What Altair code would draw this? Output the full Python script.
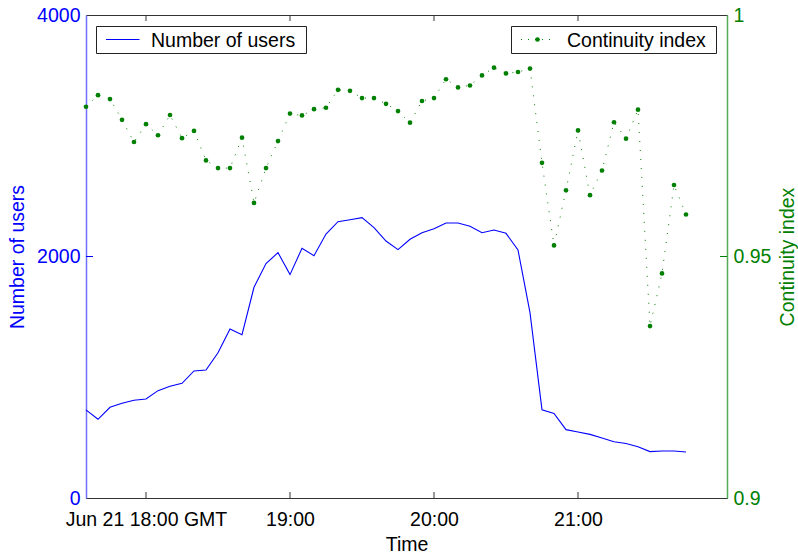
import altair as alt
import pandas as pd

# ---- data ----
start_time = "2008-06-21T17:35:00Z"
step_minutes = 5
users = [730, 652, 751, 784, 809, 820, 889, 925, 950, 1052, 1060, 1203, 1400, 1353,
         1745, 1941, 2032, 1850, 2068, 2007, 2186, 2288, 2305, 2322, 2239, 2128, 2057,
         2143, 2197, 2230, 2277, 2277, 2250, 2197, 2219, 2192, 2054, 1535, 731, 701,
         566, 547, 527, 497, 466, 452, 425, 384, 389, 389, 381]
continuity = [0.9810, 0.9834, 0.9826, 0.9783, 0.9737, 0.9774, 0.9751, 0.9793, 0.9745,
              0.9760, 0.9699, 0.9683, 0.9683, 0.9746, 0.9611, 0.9683, 0.9739, 0.9796,
              0.9792, 0.9805, 0.9808, 0.9845, 0.9843, 0.9828, 0.9828, 0.9816, 0.9801,
              0.9777, 0.9822, 0.9828, 0.9867, 0.9850, 0.9854, 0.9875, 0.9891, 0.9879,
              0.9882, 0.9889, 0.9694, 0.9523, 0.9637, 0.9761, 0.9627, 0.9678, 0.9778,
              0.9744, 0.9804, 0.9356, 0.9465, 0.9648, 0.9587]
x_tick_hours = [18, 19, 20, 21]
users_ticks = [0, 2000, 4000]
ci_ticks = [0.9, 0.95, 1.0]

times = pd.date_range(start_time, periods=len(users), freq=f"{step_minutes}min")
df = pd.DataFrame({
    "time": [t.strftime("%Y-%m-%dT%H:%M:%SZ") for t in times],
    "users": users,
    "ci": continuity,
})
tick_df = pd.DataFrame({"time": [f"2008-06-21T{h:02d}:00:00Z" for h in x_tick_hours]})

FONT = "Liberation Sans"
FS = 19.5
BLUE = "#0000ff"
GREEN = "#008000"
FRAME = "#333333"
W, H = 641, 483

x_domain = [alt.DateTime(year=2008, month=6, date=21, hours=17, minutes=35, utc=True),
            alt.DateTime(year=2008, month=6, date=21, hours=22, minutes=2, seconds=5, utc=True)]
x_scale = alt.Scale(type="utc", domain=x_domain)
x_values = [alt.DateTime(year=2008, month=6, date=21, hours=h, minutes=0, utc=True) for h in x_tick_hours]

x_axis = alt.Axis(
    values=x_values,
    labelExpr="utcFormat(datum.value, '%H') == '18' ? 'Jun 21 18:00 GMT' : utcFormat(datum.value, '%H:%M')",
    ticks=False, tickSize=0, labelPadding=12, labelFlush=False, labelOverlap=False,
    domainColor=FRAME, domainWidth=1, grid=False,
    labelColor="black", labelFont=FONT, labelFontSize=FS,
    title="Time", titleColor="black", titleFont=FONT, titleFontSize=FS,
    titleFontWeight="normal", titleX=W / 2, titleY=46, titleAlign="center",
    titleBaseline="middle",
)
x_enc = alt.X("time:T", scale=x_scale, axis=x_axis)

users_line = alt.Chart(df).mark_line(color=BLUE, strokeWidth=1.1).encode(
    x=x_enc,
    y=alt.Y("users:Q", scale=alt.Scale(domain=[0, 4000], nice=False, zero=False),
            axis=alt.Axis(orient="left", values=users_ticks, format="d", ticks=False,
                          tickSize=0, labelPadding=6, grid=False,
                          domainColor="#6f6fff", domainWidth=1.5,
                          labelColor=BLUE, labelFont=FONT, labelFontSize=FS,
                          title="Number of users", titleColor=BLUE, titleFont=FONT,
                          titleFontSize=FS, titleFontWeight="normal", titleAngle=270,
                          titleX=-69, titleY=H / 2, titleAlign="center",
                          titleBaseline="middle")),
)

users_tick = alt.Chart(pd.DataFrame({"v": [users_ticks[1]]})).mark_rule(color=BLUE).encode(
    y=alt.Y("v:Q", scale=alt.Scale(domain=[0, 4000], nice=False, zero=False), axis=None),
    x=alt.value(0), x2=alt.value(7),
)

ci_y = alt.Y("ci:Q", scale=alt.Scale(domain=[0.9, 1.0], nice=False, zero=False),
             axis=alt.Axis(orient="right", values=ci_ticks, format="~g", ticks=False,
                           tickSize=0, labelPadding=6, grid=False,
                           domainColor="#55aa55", domainWidth=1.5,
                           labelColor=GREEN, labelFont=FONT, labelFontSize=FS,
                           title="Continuity index", titleColor=GREEN, titleFont=FONT,
                           titleFontSize=FS, titleFontWeight="normal", titleAngle=270,
                           titleX=60, titleY=H / 2, titleAlign="center",
                           titleBaseline="middle"))

ci_line = alt.Chart(df).mark_line(color=GREEN, strokeWidth=1, strokeDash=[1, 8]).encode(
    x=x_enc,
    y=ci_y,
)
ci_points = alt.Chart(df).mark_circle(color=GREEN, size=22, opacity=1).encode(
    x=x_enc,
    y=alt.Y("ci:Q", scale=alt.Scale(domain=[0.9, 1.0], nice=False, zero=False), axis=None),
)
ci_tick = alt.Chart(pd.DataFrame({"v": [ci_ticks[1]]})).mark_rule(color=GREEN).encode(
    y=alt.Y("v:Q", scale=alt.Scale(domain=[0.9, 1.0], nice=False, zero=False), axis=None),
    x=alt.value(W - 7), x2=alt.value(W),
)

top_ticks = alt.Chart(tick_df).mark_rule(color=FRAME).encode(
    x=x_enc, y=alt.value(0), y2=alt.value(6))
bottom_ticks = alt.Chart(tick_df).mark_rule(color=FRAME).encode(
    x=x_enc, y=alt.value(H - 6), y2=alt.value(H))

one = pd.DataFrame({"a": [0]})
box1 = alt.Chart(one).mark_rect(fill="white", stroke="#222222", strokeWidth=1).encode(
    x=alt.value(10.5), x2=alt.value(220.5), y=alt.value(11.5), y2=alt.value(38.5))
sample1 = alt.Chart(one).mark_rule(color=BLUE, strokeWidth=1).encode(
    x=alt.value(20), x2=alt.value(53.5), y=alt.value(24.5))
text1 = alt.Chart(one).mark_text(align="left", baseline="middle", font=FONT, fontSize=FS,
                                 color="black").encode(
    x=alt.value(65), y=alt.value(25.5), text=alt.value("Number of users"))

box2 = alt.Chart(one).mark_rect(fill="white", stroke="#222222", strokeWidth=1).encode(
    x=alt.value(425.5), x2=alt.value(630.5), y=alt.value(11.5), y2=alt.value(38.5))
sample2 = alt.Chart(one).mark_rule(color=GREEN, strokeWidth=1, strokeDash=[1, 6]).encode(
    x=alt.value(435), x2=alt.value(464), y=alt.value(24.5))
dot2 = alt.Chart(one).mark_circle(color=GREEN, size=22, opacity=1).encode(
    x=alt.value(451.5), y=alt.value(24.5))
text2 = alt.Chart(one).mark_text(align="left", baseline="middle", font=FONT, fontSize=FS,
                                 color="black").encode(
    x=alt.value(481), y=alt.value(25.5), text=alt.value("Continuity index"))

chart = alt.layer(
    users_line, ci_line, ci_points, users_tick, ci_tick, top_ticks, bottom_ticks,
    box1, sample1, text1, box2, sample2, dot2, text2,
).resolve_scale(y="independent").properties(
    width=W, height=H,
    autosize=alt.AutoSizeParams(type="none"),
    padding={"left": 86, "top": 15, "right": 798 - 86 - W, "bottom": 559 - 15 - H},
    background="white",
).configure_view(stroke=FRAME, strokeWidth=1)

chart.save("out.html", embed_options={"renderer": "svg", "actions": False})
